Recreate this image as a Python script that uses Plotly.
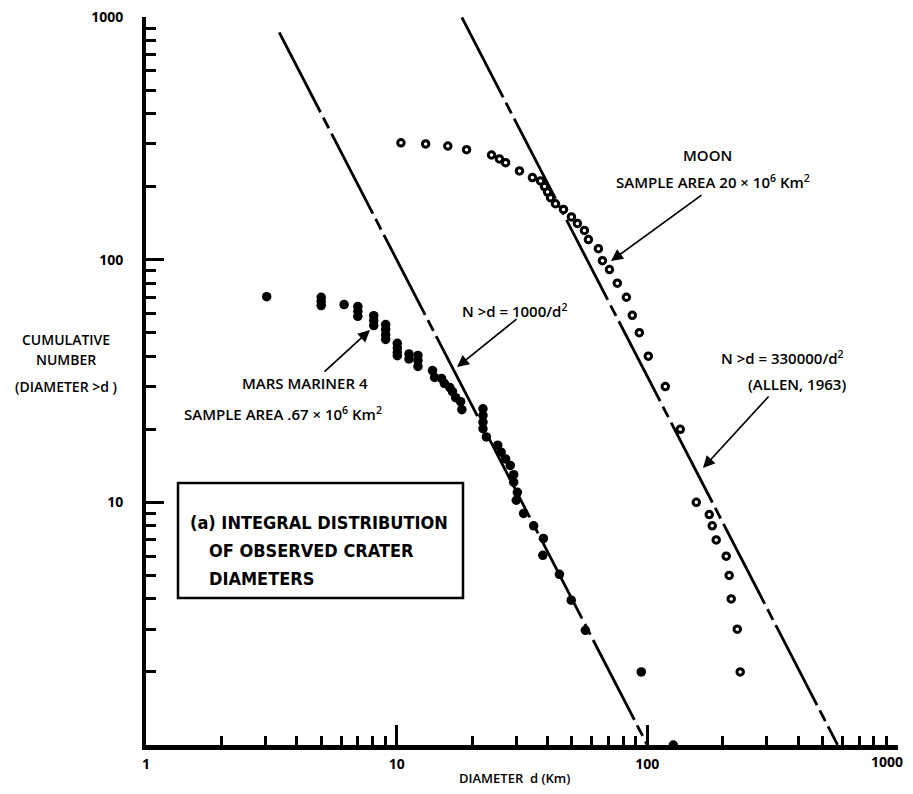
import math
import plotly.graph_objects as go

# ---- data ----
moon_d = [10.4, 13.05, 16.0, 19.0, 23.9, 25.7, 27.2, 30.9, 34.8, 37.5, 38.9, 40.0, 41.1, 43.0,
          46.3, 49.8, 52.6, 56.1, 58.2, 63.8, 66.2, 70.6, 75.9, 82.5, 87.1, 92.9, 100.9, 117.9,
          135.3, 156.8, 176.6, 181.5, 188.3, 206.4, 212.1, 216.1, 228.4, 234.7]
moon_n = [303, 300, 294, 284, 270, 260, 251, 232, 218, 211, 200, 190, 180, 170,
          161, 150, 141, 132, 121, 111, 99, 91, 80, 70, 59, 50, 40, 30,
          20, 10, 8.9, 8.0, 7.0, 6.0, 5.0, 4.0, 3.0, 2.0]

mars_d = [3.03, 5.0, 5.0, 5.0, 6.17, 7.0, 7.0, 7.0, 8.1, 8.1, 8.1, 9.04, 9.04, 9.04, 9.04,
          10.06, 10.06, 10.06, 10.06, 11.2, 11.2, 12.16, 12.16, 12.16,
          13.9, 14.17, 15.1, 15.5, 16.3, 16.7, 17.2, 18.0, 18.2,
          22.1, 22.1, 22.1, 22.1, 22.8, 25.3, 26.1, 27.2, 28.4, 29.3, 29.3,
          30.3, 30.0, 32.1, 35.2, 38.5, 38.3, 44.6, 49.7, 56.6, 94.6, 127]
mars_n = [70.4, 70.0, 67.4, 64.7, 65.3, 64.1, 61.3, 58.4, 58.8, 56.1, 53.5, 54.0, 51.5, 49.1, 46.9,
          45.2, 43.3, 41.4, 40.2, 40.9, 39.0, 40.3, 38.4, 36.3,
          34.9, 32.7, 32.4, 30.9, 29.7, 28.6, 27.0, 26.0, 24.1,
          24.3, 22.8, 21.4, 20.1, 18.6, 17.2, 16.1, 15.1, 14.2, 13.0, 12.1,
          11.0, 10.2, 9.0, 8.0, 7.1, 6.05, 5.05, 3.95, 2.97, 2.0, 1.0]

# power-law reference lines  N = C / d^2 (as drawn)
mars_line_coef = 10000
mars_line_d = [3.4, 100]
moon_line_coef = 330000
moon_line_d = [18.2, 574]

x_tickvals = [1, 10, 100, 1000]
x_ticktext = ["1", "10", "100", ""]
x_last_label = "1000"
y_tickvals = [10, 100, 1000]
y_ticktext = ["10", "100", "1000"]
minor_vals = [m * 10 ** k for k in range(3) for m in range(2, 10)]

# ---- layout (screen pixels; page body adds an 8px offset) ----
OFF = 8
PL, PR, PT, PB = 146, 898, 17, 745          # plot area on screen
W, H = 897, 778
L = PL - OFF
T = PT - OFF
R = W - L - (PR - PL)
B = H - T - (PB - PT)

def px(x):
    return (x - PL) / (PR - PL)
def py(y):
    return (PB - y) / (PB - PT)

FONT = "Open Sans, Lato, sans-serif"
BOXFONT = "Liberation Sans Narrow, DejaVu Sans Condensed, Arial Narrow, sans-serif"

fig = go.Figure()
dash = "90px,6px,12px,6px"
fig.add_trace(go.Scatter(x=mars_line_d, y=[mars_line_coef / d ** 2 for d in mars_line_d],
                         mode="lines", line=dict(color="black", width=2.8, dash=dash),
                         showlegend=False, hoverinfo="skip"))
fig.add_trace(go.Scatter(x=moon_line_d, y=[moon_line_coef / d ** 2 for d in moon_line_d],
                         mode="lines", line=dict(color="black", width=2.8, dash=dash),
                         showlegend=False, hoverinfo="skip"))
fig.add_trace(go.Scatter(x=mars_d, y=mars_n, mode="markers",
                         marker=dict(symbol="circle", size=9.5, color="black"),
                         showlegend=False))
fig.add_trace(go.Scatter(x=moon_d, y=moon_n, mode="markers",
                         marker=dict(symbol="circle", size=6.5, color="white",
                                     line=dict(color="black", width=3)),
                         showlegend=False))

TICKFONT = dict(family=FONT, size=14, color="black", weight=700)
axis_common = dict(type="log", range=[0, 3], showgrid=False, zeroline=False,
                   showline=True, linecolor="black", ticks="inside", tickcolor="black",
                   tickwidth=2.5, ticklabeloverflow="allow", tickfont=TICKFONT)
fig.update_xaxes(**axis_common, linewidth=5, tickmode="array", tickvals=x_tickvals,
                 ticktext=x_ticktext, ticklen=20, ticklabelstandoff=2,
                 minor=dict(tickmode="array", tickvals=minor_vals, ticks="inside",
                            ticklen=9, tickwidth=2.5, tickcolor="black"))
fig.update_yaxes(**axis_common, linewidth=4, tickmode="array", tickvals=y_tickvals,
                 ticktext=y_ticktext, ticklen=18, ticklabelstandoff=16,
                 minor=dict(tickmode="array", tickvals=minor_vals, ticks="inside",
                            ticklen=10, tickwidth=2.5, tickcolor="black"))

ann = []
def text(x, y, s, size=15, xanchor="center", family=FONT, weight=600):
    ann.append(dict(x=px(x), y=py(y), xref="paper", yref="paper", text=s, showarrow=False,
                    xanchor=xanchor, yanchor="middle",
                    font=dict(family=family, size=size, color="black", weight=weight)))
def arrow(tx, ty, hx, hy):
    ann.append(dict(x=px(hx), y=py(hy), xref="paper", yref="paper", text="",
                    showarrow=True, ax=tx - hx, ay=ty - hy, arrowhead=2, arrowsize=1.4,
                    arrowwidth=1.7, arrowcolor="black"))

# last x tick label, kept inside the page's right edge (log axis -> log10 position)
ann.append(dict(x=math.log10(x_tickvals[-1]), xref="x", y=0, yref="paper", text=x_last_label,
                showarrow=False, xanchor="right", yanchor="top", xshift=7, yshift=-5,
                font=TICKFONT))

text(707, 155, "MOON")
text(713, 182, "SAMPLE AREA 20 × 10<sup>6</sup> Km<sup>2</sup>")
text(514, 310, "N &gt;d = 1000/d<sup>2</sup>")
text(782, 357, "N &gt;d = 330000/d<sup>2</sup>")
text(797, 384, "(ALLEN, 1963)")
text(305, 383, "MARS MARINER 4")
text(283, 413, "SAMPLE AREA .67 × 10<sup>6</sup> Km<sup>2</sup>")
text(66, 339, "CUMULATIVE", size=14)
text(66, 359, "NUMBER", size=14)
text(66, 386, "(DIAMETER &gt;d )", size=14)
text(514, 778, "DIAMETER  d (Km)", size=13)
text(188, 522, "(a) INTEGRAL DISTRIBUTION", size=18, xanchor="left", family=BOXFONT, weight=700)
text(207, 550, "OF OBSERVED CRATER", size=18, xanchor="left", family=BOXFONT, weight=700)
text(207, 578, "DIAMETERS", size=18, xanchor="left", family=BOXFONT, weight=700)

arrow(703, 194, 611, 261)
arrow(518, 318, 457, 367)
arrow(770, 395, 703, 468)
arrow(323, 373, 370, 330)

fig.add_shape(type="rect", xref="paper", yref="paper", x0=px(178), x1=px(463),
              y0=py(598), y1=py(483), line=dict(color="black", width=2.5), fillcolor="white",
              layer="above")

fig.update_layout(width=W, height=H, margin=dict(l=L, r=R, t=T, b=B, autoexpand=False),
                  plot_bgcolor="white", paper_bgcolor="white", annotations=ann,
                  showlegend=False)
fig.write_html("out.html")
